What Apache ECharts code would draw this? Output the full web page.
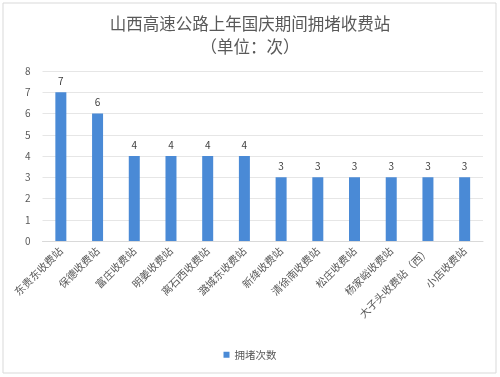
<!DOCTYPE html>
<html><head><meta charset="utf-8">
<script src="https://cdn.jsdelivr.net/npm/echarts@6/dist/echarts.min.js"></script>
<style>html,body{margin:0;padding:0;background:#fff}#c{width:500px;height:377px}</style>
</head><body><div id="c"></div>
<script>
const categories = ['东贵东收费站','保德收费站','富庄收费站','明姜收费站','离石西收费站','潞城东收费站','新绛收费站','清徐南收费站','松庄收费站','杨家峪收费站','大子头收费站（西）','小店收费站'];
const values = [7,6,4,4,4,4,3,3,3,3,3,3];
const seriesName = '拥堵次数';
const titleText = '山西高速公路上年国庆期间拥堵收费站\n（单位：次）';
const chart = echarts.init(document.getElementById('c'));
const font = '"Noto Sans CJK SC", sans-serif';
chart.setOption({
  animation: false,
  graphic: [{type:'rect', shape:{x:3,y:3,width:493,height:370}, style:{fill:'none', stroke:'#d9d9d9', lineWidth:1}}],
  title: {text: titleText, left: 'center', top: 7, textStyle:{fontFamily:font, fontSize:16.5, fontWeight:'normal', color:'#595959', lineHeight:23}},
  legend: {bottom: 12, left: 'center', itemWidth: 6, itemHeight: 6, icon: 'rect', textStyle:{fontFamily:font, fontSize:10.5, color:'#595959'}},
  grid: {left: 42.5, right: 17, top: 71, bottom: 136},
  xAxis: {type:'category', data: categories, axisTick:{show:false}, axisLine:{lineStyle:{color:'#d9d9d9'}},
    axisLabel:{rotate:45, interval:0, fontFamily:font, fontSize:10.5, color:'#595959', margin:8}},
  yAxis: {type:'value', min:0, max:8, interval:1, axisLine:{show:false}, axisTick:{show:false},
    splitLine:{lineStyle:{color:'#e6e6e6'}}, axisLabel:{fontFamily:font, fontSize:10, color:'#595959', margin:12}},
  series: [{name: seriesName, type:'bar', data: values, barWidth: 11, itemStyle:{color:'#4a8ad6'},
    label:{show:true, position:'top', fontFamily:font, fontSize:10, color:'#404040', distance:6}}]
});
</script></body></html>
